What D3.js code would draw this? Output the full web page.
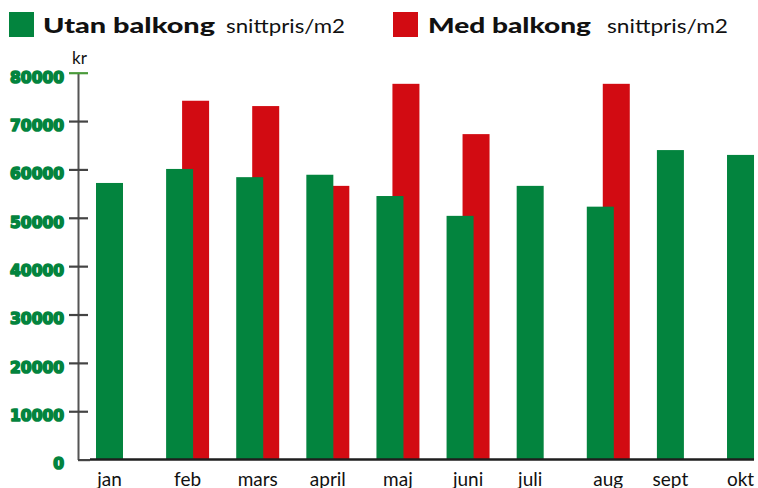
<!DOCTYPE html>
<html>
<head>
<meta charset="utf-8">
<script src="https://cdn.jsdelivr.net/npm/d3@7"></script>
<style>
  html, body { margin: 0; padding: 0; background: #fff; }
  svg { display: block; }
</style>
</head>
<body>
<svg id="chart" width="758" height="488"></svg>
<script>
// ---- data ----
const categories = ["jan", "feb", "mars", "april", "maj", "juni", "juli", "aug", "sept", "okt"];
const utanBalkong = [57200, 60100, 58400, 58900, 54500, 50400, 56600, 52300, 64000, 63000];
const medBalkong  = [null, 74200, 73100, 56600, 77700, 67300, null, 77700, null, null];
const yTickValues = [0, 10000, 20000, 30000, 40000, 50000, 60000, 70000, 80000];
const seriesNames = ["Utan balkong", "Med balkong"];
const legendUnit = "snittpris/m2";
const yUnit = "kr";

// ---- styles ----
const GREEN = "#03843e";
const RED = "#d20b12";
const FONT = "Lato, 'Open Sans', sans-serif";

const svg = d3.select("#chart");

const y = d3.scaleLinear().domain([0, 80000]).range([459.6, 72.7]);
const x = d3.scaleBand().domain(categories).range([96, 770]).paddingInner(0.387).paddingOuter(0);
const bw = x.bandwidth();        // group width (~43)
const gw = 27;                   // green bar width
const rOff = bw - gw;            // red bar offset

// red bars (behind)
svg.append("g").selectAll("rect")
  .data(categories.map((c, i) => ({c, v: medBalkong[i]})).filter(d => d.v != null))
  .join("rect")
  .attr("x", d => x(d.c) + rOff)
  .attr("width", gw)
  .attr("y", d => y(d.v))
  .attr("height", d => y(0) - y(d.v))
  .attr("fill", RED);

// green bars (front)
svg.append("g").selectAll("rect")
  .data(categories.map((c, i) => ({c, v: utanBalkong[i]})))
  .join("rect")
  .attr("x", d => x(d.c))
  .attr("width", gw)
  .attr("y", d => y(d.v))
  .attr("height", d => y(0) - y(d.v))
  .attr("fill", GREEN);

// y axis
const yAxis = d3.axisLeft(y).tickValues(yTickValues).tickFormat(d3.format("d")).tickSizeOuter(0);
const gy = svg.append("g").attr("transform", "translate(78,0)").call(yAxis);
gy.select(".domain").attr("stroke", "#555").attr("stroke-width", 2);
gy.selectAll(".tick line")
  .attr("x1", d => d === 0 ? 0 : -9)
  .attr("x2", d => d === 0 ? 12 : 10)
  .attr("stroke", d => d === 80000 ? "#4a9a3a" : "#444")
  .attr("stroke-width", 2.2);
gy.selectAll(".tick text")
  .attr("x", -14)
  .attr("dy", "0.6em")
  .attr("fill", GREEN)
  .attr("stroke", GREEN)
  .attr("stroke-width", 1.6)
  .attr("stroke-linejoin", "round")
  .attr("font-family", "'DejaVu Sans', sans-serif")
  .attr("font-weight", "bold")
  .attr("font-size", 15.5)
  .attr("letter-spacing", 0);

// x axis line
svg.append("line")
  .attr("x1", 90).attr("x2", 754)
  .attr("y1", y(0)).attr("y2", y(0))
  .attr("stroke", "#1e1e1e").attr("stroke-width", 2.5);

// x labels
svg.append("g").selectAll("text")
  .data(categories.map((c, i) => ({c, hasRed: medBalkong[i] != null})))
  .join("text")
  .attr("x", d => x(d.c) + (d.hasRed ? bw / 2 : gw / 2))
  .attr("y", 486)
  .attr("text-anchor", "middle")
  .attr("font-family", FONT)
  .attr("font-size", 19)
  .attr("fill", "#111")
  .text(d => d.c);

// unit label
svg.append("text")
  .attr("x", 72).attr("y", 64)
  .attr("font-family", FONT).attr("font-size", 17).attr("fill", "#111")
  .text(yUnit);

// legend
const legend = [
  {name: seriesNames[0], color: GREEN, sx: 9, tx: 43, tl: 172, ux: 226, ul: 119},
  {name: seriesNames[1], color: RED, sx: 393, tx: 428, tl: 163, ux: 607, ul: 121}
];
legend.forEach(l => {
  svg.append("rect").attr("x", l.sx).attr("y", 12).attr("width", 25).attr("height", 25).attr("fill", l.color);
  svg.append("text").attr("x", l.tx).attr("y", 33)
    .attr("font-family", FONT).attr("font-weight", 900).attr("font-size", 21).attr("fill", "#111")
    .attr("textLength", l.tl).attr("lengthAdjust", "spacingAndGlyphs")
    .text(l.name);
  svg.append("text").attr("x", l.ux).attr("y", 33)
    .attr("font-family", FONT).attr("font-size", 20).attr("fill", "#111")
    .attr("textLength", l.ul).attr("lengthAdjust", "spacingAndGlyphs")
    .text(legendUnit);
});
</script>
</body>
</html>
